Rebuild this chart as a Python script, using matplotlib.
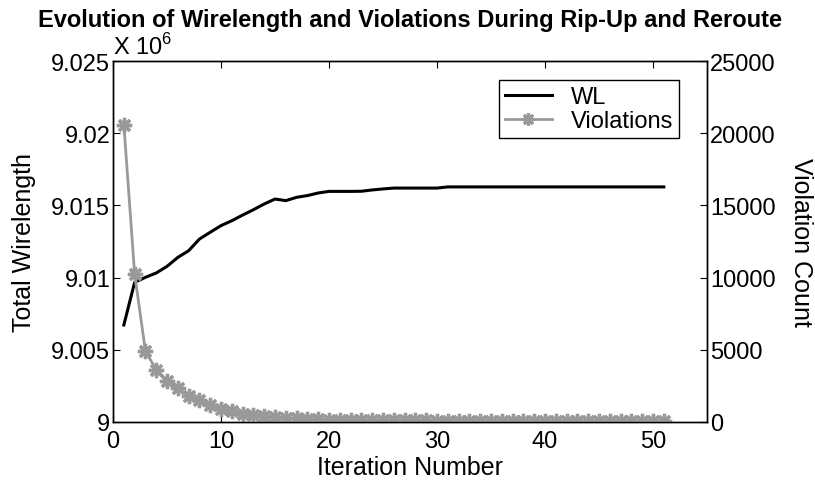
import matplotlib
matplotlib.use("Agg")
import matplotlib.pyplot as plt
from matplotlib.ticker import FuncFormatter
from matplotlib.lines import Line2D

plt.rcParams['font.family'] = ['Liberation Sans', 'DejaVu Sans']
plt.rcParams['mathtext.fontset'] = 'custom'
plt.rcParams['mathtext.rm'] = 'Liberation Sans'

# iteration index and the two tracked quantities
iterations = list(range(1, 52))
wirelength = [9006720, 9009670, 9010020, 9010320, 9010780, 9011400, 9011860,
              9012670, 9013140, 9013600, 9013940, 9014330, 9014700, 9015100,
              9015440, 9015330, 9015560, 9015680, 9015860, 9015970, 9015970,
              9015970, 9015980, 9016070, 9016140, 9016200, 9016200, 9016200,
              9016200, 9016200, 9016280, 9016280, 9016280, 9016280, 9016280,
              9016280, 9016280, 9016280, 9016280, 9016280, 9016280, 9016280,
              9016280, 9016280, 9016280, 9016280, 9016280, 9016280, 9016280,
              9016280, 9016280]
violations = [20600, 10250, 4900, 3620, 2860, 2330, 1820, 1520, 1150, 900,
              760, 580, 500, 440, 340, 290, 250, 220, 190, 170,
              160, 150, 140, 135, 130, 120, 115, 110, 105, 100,
              95, 95, 90, 90, 85, 85, 80, 80, 75, 75,
              70, 70, 70, 65, 65, 65, 60, 60, 60, 55, 55]

GRAY = '#999999'
TICK_FS = 17
LABEL_FS = 18

fig = plt.figure(figsize=(8.15, 4.81), dpi=100)
ax = fig.add_axes([0.1387, 0.1206, 0.7288, 0.7505])
ax2 = ax.twinx()

ax.plot(iterations, wirelength, color='black', lw=2.2, label='WL')
ax2.plot(iterations, violations, color=GRAY, lw=2.0, marker=(8, 2, 0),
         markersize=11, markeredgewidth=2.4, markeredgecolor=GRAY,
         label='Violations')

ax.set_xlim(0, 55)
ax.set_ylim(9.000e6, 9.025e6)
ax2.set_ylim(0, 25000)
ax.set_xticks([0, 10, 20, 30, 40, 50])
ax.set_yticks([9.000e6, 9.005e6, 9.010e6, 9.015e6, 9.020e6, 9.025e6])
ax2.set_yticks([0, 5000, 10000, 15000, 20000, 25000])
ax.yaxis.set_major_formatter(FuncFormatter(lambda v, p: '%g' % round(v / 1e6, 3)))

ax.tick_params(axis='x', direction='in', top=True, length=5, labelsize=TICK_FS, pad=6)
ax.tick_params(axis='y', direction='in', length=5, labelsize=TICK_FS, pad=2)
ax2.tick_params(axis='y', direction='in', length=5, labelsize=TICK_FS, pad=2)
for a in (ax, ax2):
    for s in a.spines.values():
        s.set_linewidth(1.0)

ax.set_xlabel('Iteration Number', fontsize=LABEL_FS, labelpad=2)
ax.set_ylabel('Total Wirelength', fontsize=LABEL_FS, labelpad=11)
ax2.set_ylabel('Violation Count', fontsize=LABEL_FS, rotation=270, va='bottom',
               labelpad=10)
ax.set_title('Evolution of Wirelength and Violations During Rip-Up and Reroute',
             fontsize=17, fontweight='bold', pad=25)
ax.text(0.0, 1.005, r'X 10$^{6}$', transform=ax.transAxes, fontsize=TICK_FS,
        ha='left', va='bottom')

handles = [Line2D([], [], color='black', lw=2.2),
           Line2D([], [], color=GRAY, lw=2.0, marker=(8, 2, 0), markersize=9,
                  markeredgewidth=2.2, markeredgecolor=GRAY)]
leg = ax2.legend(handles, ['WL', 'Violations'], loc='upper right',
                 bbox_to_anchor=(0.953, 0.947), borderaxespad=0, fontsize=TICK_FS,
                 fancybox=False, framealpha=1, edgecolor='black',
                 handlelength=2.0, borderpad=0.25, labelspacing=0.1,
                 handletextpad=0.8)
leg.get_frame().set_linewidth(1.0)

fig.savefig('out.png', dpi=100)
